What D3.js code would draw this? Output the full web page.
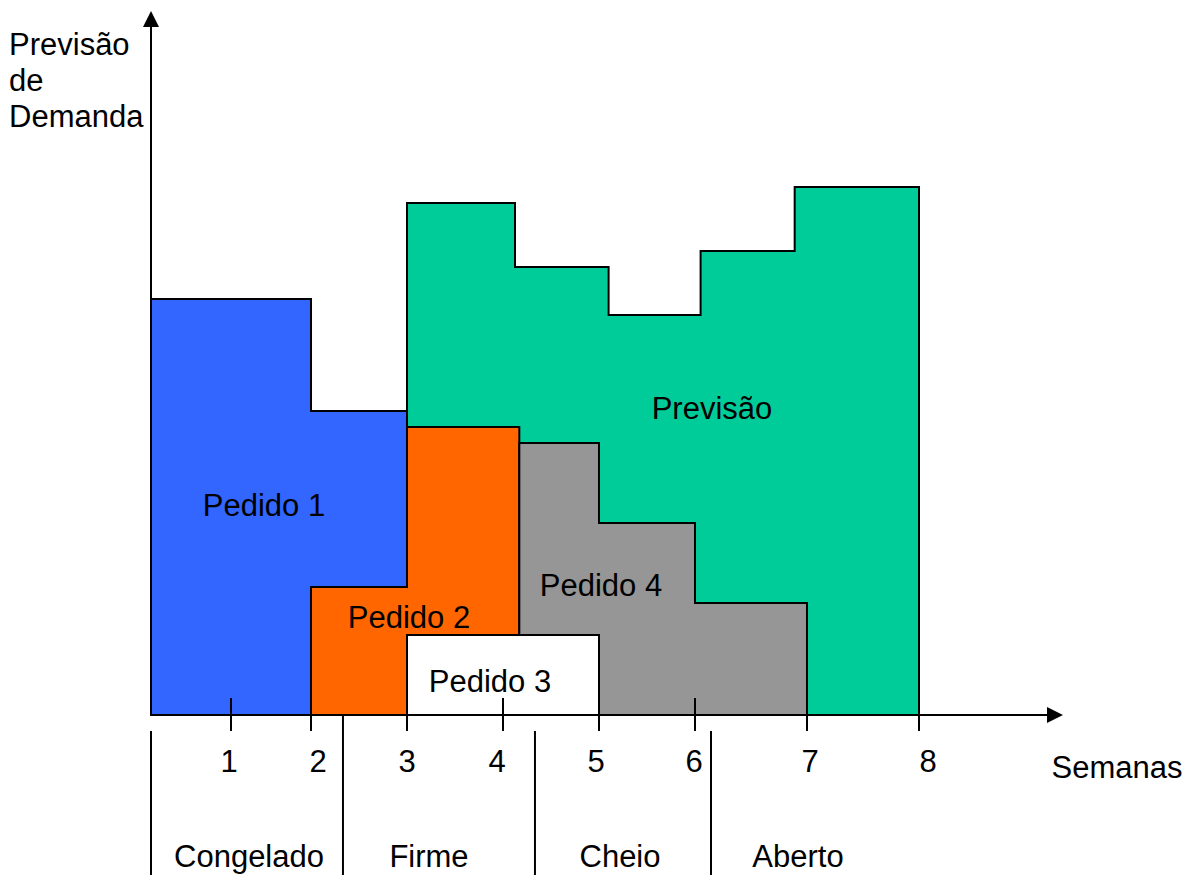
<!DOCTYPE html>
<html lang="pt">
<head>
<meta charset="utf-8">
<title>Previsão de Demanda</title>
<script src="https://cdn.jsdelivr.net/npm/d3@7/dist/d3.min.js"></script>
<style>
  html, body { margin: 0; padding: 0; background: #ffffff; }
  svg { display: block; }
  text { font-family: "Liberation Sans", Arial, Helvetica, sans-serif; fill: #000; }
</style>
</head>
<body>
<svg id="chart" width="1196" height="875"></svg>
<script>
// Week ticks on the horizontal axis
const weekTicks = [1, 2, 3, 4, 5, 6, 7, 8];

// Step series: break points (weeks) and the level held between them (demand units)
const previsaoBreaks = [3, 4.125, 5.1, 6.05, 6.89, 8];
const previsaoValues = [32, 28, 25, 29, 33];

const pedido1Breaks = [0, 2, 3];
const pedido1Values = [26, 19];

const pedido2Breaks = [2, 3, 4.17];
const pedido2Values = [8, 18];

const pedido3Breaks = [3, 5];
const pedido3Values = [5];

const pedido4Breaks = [4.17, 5, 6, 7];
const pedido4Values = [17, 12, 7];

// Planning horizon zones (week boundaries)
const zoneNames = ["Congelado", "Firme", "Cheio", "Aberto"];
const zoneBounds = [0, 2.333, 4.333, 6.143];

const svg = d3.select("#chart");

// Weeks are drawn with unequal widths, so the x scale is piecewise linear
const x = d3.scaleLinear()
  .domain([0, 1, 2, 3, 4, 5, 6, 7, 8])
  .range([151, 231, 311, 407, 503, 599, 695, 807, 919]);

const y = d3.scaleLinear().domain([0, 44]).range([715, 11]);

const axisY = y(0);
const stroke = 2;
const fontSize = 31;

// Hand-set text placement
const tickLabelShift = { 1: -2, 2: 7, 4: -6, 5: -3, 6: -1, 7: 3, 8: 9 };
const zoneLabelX = [249, 429, 620, 798];

function stepPoints(breaks, values) {
  const pts = [[breaks[0], 0]];
  values.forEach((v, i) => {
    pts.push([breaks[i], v]);
    pts.push([breaks[i + 1], v]);
  });
  pts.push([breaks[breaks.length - 1], 0]);
  return pts;
}

const line = d3.line().x(d => x(d[0])).y(d => y(d[1]));

const layers = [
  { name: "Previsão", breaks: previsaoBreaks, values: previsaoValues, color: "#00cc99", lx: 712, ly: 419 },
  { name: "Pedido 1", breaks: pedido1Breaks, values: pedido1Values, color: "#3366ff", lx: 264, ly: 516 },
  { name: "Pedido 2", breaks: pedido2Breaks, values: pedido2Values, color: "#ff6600", lx: 409, ly: 628 },
  { name: "Pedido 4", breaks: pedido4Breaks, values: pedido4Values, color: "#969696", lx: 601, ly: 596 },
  { name: "Pedido 3", breaks: pedido3Breaks, values: pedido3Values, color: "#ffffff", lx: 490, ly: 692 }
];

const shapes = svg.append("g").attr("class", "shapes");
shapes.selectAll("path")
  .data(layers)
  .join("path")
  .attr("d", d => line(stepPoints(d.breaks, d.values)) + "Z")
  .attr("fill", d => d.color)
  .attr("stroke", "#000")
  .attr("stroke-width", stroke)
  .attr("stroke-linejoin", "miter");

svg.append("g").attr("class", "shape-labels")
  .selectAll("text")
  .data(layers)
  .join("text")
  .attr("x", d => d.lx)
  .attr("y", d => d.ly)
  .attr("text-anchor", "middle")
  .attr("font-size", fontSize)
  .text(d => d.name);

// Axes with arrow heads
const axes = svg.append("g").attr("class", "axes");
axes.append("line")
  .attr("x1", x(0)).attr("x2", x(0))
  .attr("y1", axisY).attr("y2", 24)
  .attr("stroke", "#000").attr("stroke-width", stroke);
axes.append("path")
  .attr("d", `M${x(0)},${y(44)} L${x(0) - 8},${y(44) + 16} L${x(0) + 8},${y(44) + 16} Z`)
  .attr("fill", "#000");

axes.append("line")
  .attr("x1", x(0)).attr("x2", 1050)
  .attr("y1", axisY).attr("y2", axisY)
  .attr("stroke", "#000").attr("stroke-width", stroke);
axes.append("path")
  .attr("d", `M1063,${axisY} L1047,${axisY - 8} L1047,${axisY + 8} Z`)
  .attr("fill", "#000");

// Tick marks crossing the horizontal axis
axes.selectAll("line.tick")
  .data(weekTicks)
  .join("line")
  .attr("class", "tick")
  .attr("x1", d => x(d)).attr("x2", d => x(d))
  .attr("y1", axisY - 17).attr("y2", axisY + 16)
  .attr("stroke", "#000").attr("stroke-width", stroke);

axes.selectAll("text.tick-label")
  .data(weekTicks)
  .join("text")
  .attr("class", "tick-label")
  .attr("x", d => x(d) + (tickLabelShift[d] || 0))
  .attr("y", 772)
  .attr("text-anchor", "middle")
  .attr("font-size", fontSize)
  .text(d => d);

axes.append("text")
  .attr("x", 1117)
  .attr("y", 778)
  .attr("text-anchor", "middle")
  .attr("font-size", fontSize)
  .text("Semanas");

const yTitle = axes.append("text")
  .attr("x", 9)
  .attr("y", 55)
  .attr("font-size", fontSize);
["Previsão", "de", "Demanda"].forEach((t, i) => {
  yTitle.append("tspan").attr("x", 9).attr("dy", i === 0 ? 0 : 36).text(t);
});

// Horizon zones under the axis
const zones = svg.append("g").attr("class", "zones");
zones.selectAll("line")
  .data(zoneBounds)
  .join("line")
  .attr("x1", d => x(d)).attr("x2", d => x(d))
  .attr("y1", (d, i) => i === 1 ? axisY : axisY + 16)
  .attr("y2", 875)
  .attr("stroke", "#000").attr("stroke-width", stroke);

zones.selectAll("text")
  .data(zoneNames)
  .join("text")
  .attr("x", (d, i) => zoneLabelX[i])
  .attr("y", 867)
  .attr("text-anchor", "middle")
  .attr("font-size", fontSize)
  .text(d => d);
</script>
</body>
</html>
